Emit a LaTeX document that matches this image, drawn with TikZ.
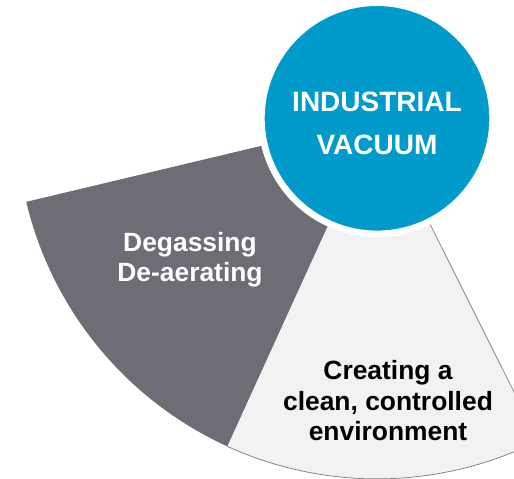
\documentclass[tikz,border=0pt]{standalone}
\usepackage{fontspec}
\setmainfont{Liberation Sans}
\definecolor{vacblue}{HTML}{009BCB}
\definecolor{slate}{HTML}{6E6D76}
\definecolor{mist}{HTML}{F2F2F2}

\begin{document}
\begin{tikzpicture}[x=1pt, y=1pt,
    hub/.style = {circle, fill=vacblue, draw=white, line width=6.6pt, minimum size=231.2pt, inner sep=0pt},
    big/.style = {align=center, text=white, font=\bfseries\fontsize{28}{43.3}\selectfont},
    small/.style = {align=center, font=\bfseries\fontsize{26.4}{30.5}\selectfont}]
            \useasboundingbox (0,0) rectangle (514,479);
            \clip (0,0) rectangle (514,479);
            \coordinate (c) at (377,360.7);
            % two slices under the hub
            \fill[slate] (c) -- ++(193.4:360.6) arc[start angle=193.4, end angle=245.5, radius=360.6] -- cycle;
            \fill[mist] (c) -- ++(245.5:360.6) arc[start angle=245.5, end angle=296.6, radius=360.6] -- cycle;
            \draw[gray, line width=0.75pt] (c) ++(245.5:360.6) arc[start angle=245.5, end angle=296.6, radius=360.6] -- (c);
            \node[hub] (hub) at (c) {};
            \node[big] (title) at ([yshift=-5pt]hub.center) {INDUSTRIAL\\VACUUM};
            \node[small, text=white] (degas) at (190,219.1) {Degassing\\De-aerating};
            \node[small] (clean) at (388,78.2) {Creating a\\clean, controlled\\environment};
        \end{tikzpicture}
\end{document}
